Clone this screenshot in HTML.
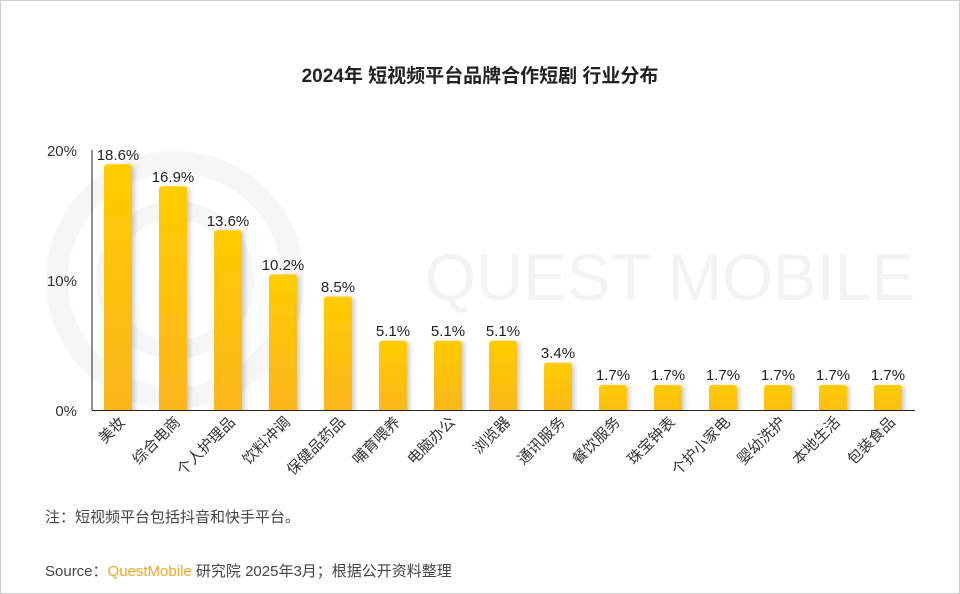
<!DOCTYPE html>
<html><head><meta charset="utf-8"><style>
html,body{margin:0;padding:0;background:#fff}
svg{display:block}
text{font-family:"Liberation Sans","Noto Sans CJK SC",sans-serif}
</style></head><body>
<svg width="960" height="594" viewBox="0 0 960 594" xmlns="http://www.w3.org/2000/svg">
<defs>
<linearGradient id="g" x1="0" y1="0" x2="0" y2="1"><stop offset="0" stop-color="#ffcc00"/><stop offset="1" stop-color="#fbb51f"/></linearGradient>
<filter id="s" x="-30%" y="-10%" width="160%" height="120%"><feDropShadow dx="3" dy="1" stdDeviation="2" flood-color="#000" flood-opacity="0.18"/></filter>
<clipPath id="c"><rect x="0" y="0" width="960" height="410"/></clipPath>
</defs>
<rect x="0.5" y="0.5" width="959" height="593" fill="#fff" stroke="#cfcfcf"/>
<g opacity="0.45">
<circle cx="175" cy="280" r="118" fill="none" stroke="#ececec" stroke-width="22"/>
<circle cx="175" cy="280" r="70" fill="none" stroke="#ececec" stroke-width="18"/>
<text x="425" y="300" font-size="66" fill="#e6e6e6" textLength="490" lengthAdjust="spacingAndGlyphs">QUEST MOBILE</text>
</g>
<text x="480" y="82" text-anchor="middle" font-size="19" font-weight="bold" fill="#222">2024年 短视频平台品牌合作短剧 行业分布</text>
<g font-size="15" fill="#333" text-anchor="end">
<text x="77" y="156">20%</text><text x="77" y="286">10%</text><text x="77" y="416">0%</text>
</g>
<line x1="92" y1="150" x2="92" y2="410" stroke="#222" stroke-width="1"/>
<g fill="url(#g)" filter="url(#s)" clip-path="url(#c)">
<rect x="104" y="164.2" width="28" height="250" rx="3"/>
<rect x="159" y="186.3" width="28" height="230" rx="3"/>
<rect x="214" y="230.2" width="28" height="190" rx="3"/>
<rect x="269" y="274.4" width="28" height="140" rx="3"/>
<rect x="324" y="296.5" width="28" height="120" rx="3"/>
<rect x="379" y="340.7" width="28" height="80" rx="3"/>
<rect x="434" y="340.7" width="28" height="80" rx="3"/>
<rect x="489" y="340.7" width="28" height="80" rx="3"/>
<rect x="544" y="362.8" width="28" height="60" rx="3"/>
<rect x="599" y="384.9" width="28" height="40" rx="3"/>
<rect x="654" y="384.9" width="28" height="40" rx="3"/>
<rect x="709" y="384.9" width="28" height="40" rx="3"/>
<rect x="764" y="384.9" width="28" height="40" rx="3"/>
<rect x="819" y="384.9" width="28" height="40" rx="3"/>
<rect x="874" y="384.9" width="28" height="40" rx="3"/>
</g>
<g font-size="15" fill="#222" text-anchor="middle">
<text x="118" y="160">18.6%</text>
<text x="173" y="182">16.9%</text>
<text x="228" y="226">13.6%</text>
<text x="283" y="270">10.2%</text>
<text x="338" y="292">8.5%</text>
<text x="393" y="336">5.1%</text>
<text x="448" y="336">5.1%</text>
<text x="503" y="336">5.1%</text>
<text x="558" y="358">3.4%</text>
<text x="613" y="380">1.7%</text>
<text x="668" y="380">1.7%</text>
<text x="723" y="380">1.7%</text>
<text x="778" y="380">1.7%</text>
<text x="833" y="380">1.7%</text>
<text x="888" y="380">1.7%</text>
</g>
<line x1="92" y1="410.5" x2="915" y2="410.5" stroke="#222" stroke-width="1"/>
<g font-size="15" fill="#333" text-anchor="end">
<text transform="translate(126,423) rotate(-45)">美妆</text>
<text transform="translate(181,423) rotate(-45)">综合电商</text>
<text transform="translate(236,423) rotate(-45)">个人护理品</text>
<text transform="translate(291,423) rotate(-45)">饮料冲调</text>
<text transform="translate(346,423) rotate(-45)">保健品药品</text>
<text transform="translate(401,423) rotate(-45)">哺育喂养</text>
<text transform="translate(456,423) rotate(-45)">电脑办公</text>
<text transform="translate(511,423) rotate(-45)">浏览器</text>
<text transform="translate(566,423) rotate(-45)">通讯服务</text>
<text transform="translate(621,423) rotate(-45)">餐饮服务</text>
<text transform="translate(676,423) rotate(-45)">珠宝钟表</text>
<text transform="translate(731,423) rotate(-45)">个护小家电</text>
<text transform="translate(786,423) rotate(-45)">婴幼洗护</text>
<text transform="translate(841,423) rotate(-45)">本地生活</text>
<text transform="translate(896,423) rotate(-45)">包装食品</text>
</g>
<text x="45" y="522" font-size="15" fill="#444">注：短视频平台包括抖音和快手平台。</text>
<text x="45" y="576" font-size="15" fill="#444">Source：<tspan fill="#f5a623">QuestMobile</tspan> 研究院 2025年3月；根据公开资料整理</text>
</svg>
</body></html>
